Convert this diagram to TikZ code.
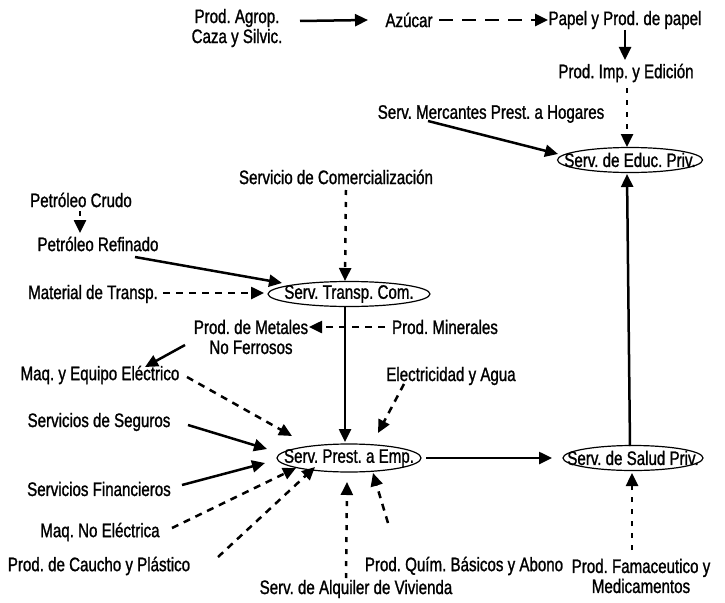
\documentclass[tikz,border=0pt]{standalone}
\usepackage{fontspec}
\setmainfont{Liberation Sans}[FakeStretch=0.775, FakeBold=1.2]
\usetikzlibrary{arrows.meta,calc,shapes.geometric}
\begin{document}
\frenchspacing
\begin{tikzpicture}[x=1pt,y=-1pt,
  every node/.style={inner sep=0pt, font=\fontsize{19.5}{20}\selectfont},
  lbl/.style={align=center},
  hub/.style={draw, ellipse, line width=1.2pt, inner sep=0pt},
  link/.style={line width=2.5pt, -{Triangle[length=13pt,width=12pt]}},
  longdash/.style={link, dash pattern=on 14pt off 9pt},
  shortdash/.style={link, dash pattern=on 7pt off 6pt},
  dotline/.style={link, dash pattern=on 5pt off 7pt}]
\useasboundingbox (0,0) rectangle (725,602);

% sources and intermediate products
\node[lbl] (agro)  at (237,28)  {Prod. Agrop.\\Caza y Silvic.};
\node[lbl] (azu)   at (409,20)  {Azúcar};
\node[lbl] (papel) at (625,20)  {Papel y Prod. de papel};
\node[lbl] (imp)   at (626,73)  {Prod. Imp. y Edición};
\node[lbl] (merc)  at (491,114) {Serv. Mercantes Prest. a Hogares};
\node[lbl] (comer) at (336,177) {Servicio de Comercialización};
\node[lbl] (crudo) at (81,200)  {Petróleo Crudo};
\node[lbl] (refin) at (98,244)  {Petróleo Refinado};
\node[lbl] (mattr) at (93,294)  {Material de Transp.};
\node[lbl] (metal) at (251,337) {Prod. de Metales\\No Ferrosos};
\node[lbl] (miner) at (445,327) {Prod. Minerales};
\node[lbl] (maqe)  at (100,375) {Maq. y Equipo Eléctrico};
\node[lbl] (elec)  at (451,376) {Electricidad y Agua};
\node[lbl] (seg)   at (99,422)  {Servicios de Seguros};
\node[lbl] (fin)   at (99,489)  {Servicios Financieros};
\node[lbl] (maqne) at (100,532) {Maq. No Eléctrica};
\node[lbl] (caucho) at (99,566) {Prod. de Caucho y Plástico};
\node[lbl] (quim)  at (464,566) {Prod. Quím. Básicos y Abono};
\node[lbl] (farm)  at (641,576) {Prod. Famaceutico y\\Medicamentos};
\node[lbl] (alq)   at (356,589) {Serv. de Alquiler de Vivienda};

% service hubs
\node[hub, minimum width=145pt, minimum height=25pt,
      label={center:Serv. de Educ. Priv.}] (edu) at (630,160) {};
\node[hub, minimum width=162pt, minimum height=25pt,
      label={center:Serv. Transp. Com.}] (transp) at (349,294) {};
\node[hub, minimum width=144pt, minimum height=28pt,
      label={center:Serv. Prest. a Emp.}] (prest) at (349,458) {};
\node[hub, minimum width=140pt, minimum height=25pt,
      label={center:Serv. de Salud Priv.}] (salud) at (633,458) {};

% top chain
\draw[link]     ($(agro)+(63,-7)$)  -- ($(azu)+(-41,0)$);
\draw[longdash] ($(azu)+(30,0)$)    -- ($(papel)+(-77,0)$);
\draw[link]     ($(papel)+(0,10)$)  -- ($(imp)+(-1,-13)$);
\draw[dotline]  ($(imp)+(1,15)$)    -- ($(edu)+(-3,-13)$);
\draw[link]     ($(merc)+(-63,7)$)  -- ($(edu)+(-72,-6)$);
\draw[link]     ($(salud)+(-3,-12)$) -- ($(edu)+(-3,14)$);

% transport services
\draw[dotline]  ($(comer)+(10,13)$) -- ($(transp)+(-4,-13)$);
\draw[dotline]  ($(crudo)+(-1,11)$) -- ($(refin)+(-18,-11)$);
\draw[link]     ($(refin)+(37,13)$) -- ($(transp)+(-67,-11)$);
\draw[shortdash] ($(mattr)+(70,-1)$) -- ($(transp)+(-85,-1)$);
\draw[link]     ($(transp)+(-4,13)$) -- ($(prest)+(-4,-16)$);
\draw[shortdash] ($(miner)+(-60,0)$) -- ($(metal)+(58,-10)$);
\draw[link]     ($(metal)+(-66,8)$) -- ($(maqe)+(45,-8)$);

% business services
\draw[shortdash] ($(maqe)+(87,2)$)   -- ($(prest)+(-57,-22)$);
\draw[shortdash] ($(elec)+(-47,8)$)  -- ($(prest)+(29,-25)$);
\draw[link]      ($(seg)+(89,3)$)    -- ($(prest)+(-82,-9)$);
\draw[link]      ($(fin)+(83,-4)$)   -- ($(prest)+(-84,5)$);
\draw[shortdash] ($(maqne)+(72,-4)$) -- ($(prest)+(-53,10)$);
\draw[shortdash] ($(caucho)+(119,-9)$) -- ($(prest)+(-34,9)$);
\draw[dotline]   ($(alq)+(-10,-11)$) -- ($(prest)+(-2,24)$);
\draw[shortdash] ($(quim)+(-76,-43)$) -- ($(prest)+(24,15)$);
\draw[link]      ($(prest)+(77,0)$)  -- ($(salud)+(-81,0)$);
\draw[dotline]   ($(farm)+(-9,-26)$) -- ($(salud)+(-1,15)$);
\end{tikzpicture}
\end{document}
